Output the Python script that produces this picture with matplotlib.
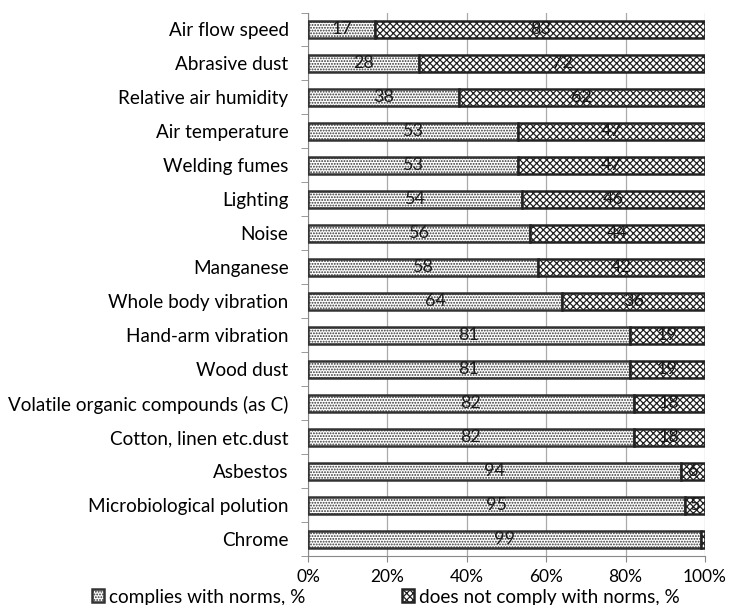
import matplotlib
matplotlib.use("Agg")
import matplotlib.pyplot as plt
import numpy as np

plt.rcParams['font.family'] = ['Lato', 'DejaVu Sans']
plt.rcParams['hatch.linewidth'] = 0.9

categories = ["Air flow speed", "Abrasive dust", "Relative air humidity", "Air temperature",
              "Welding fumes", "Lighting", "Noise", "Manganese", "Whole body vibration",
              "Hand-arm vibration", "Wood dust", "Volatile organic compounds (as C)",
              "Cotton, linen etc.dust", "Asbestos", "Microbiological polution", "Chrome"]
complies = [17, 28, 38, 53, 53, 54, 56, 58, 64, 81, 81, 82, 82, 94, 95, 99]
not_comply = [83, 72, 62, 47, 47, 46, 44, 42, 36, 19, 19, 18, 18, 6, 5, 1]
xticks = [0, 20, 40, 60, 80, 100]
xticklabels = ["0%", "20%", "40%", "60%", "80%", "100%"]

fig = plt.figure(figsize=(7.30, 6.05), dpi=100)
ax = fig.add_axes([308/730, 1-556/605, (705-308)/730, (556-12.5)/605])

y = np.arange(len(categories))
h = 0.5
b1 = ax.barh(y, complies, height=h, color='white', edgecolor='#333333', hatch='......',
             linewidth=1.8, label='complies with norms, %', zorder=3)
b2 = ax.barh(y, not_comply, left=complies, height=h, color='white', edgecolor='#222222',
             hatch='xxxxx', linewidth=1.8, label='does not comply with norms, %', zorder=3)
for i, (c, n) in enumerate(zip(complies, not_comply)):
    ax.text(c/2, i, str(c), ha='center', va='center', fontsize=13, color='#1a1a1a', zorder=5)
    if n > 1:
        ax.text(c + n/2, i, str(n), ha='center', va='center', fontsize=13, color='#1a1a1a', zorder=5)

ax.set_ylim(len(categories) - 0.5, -0.5)
ax.set_xlim(0, 100)
ax.set_yticks(y)
ax.set_yticklabels(categories, fontsize=13.6)
ax.set_yticks(np.arange(-0.5, len(categories)), minor=True)
ax.tick_params(axis='y', which='major', length=0, pad=14)
ax.tick_params(axis='y', which='minor', length=5, color='#888888')
ax.set_xticks(xticks)
ax.set_xticklabels(xticklabels, fontsize=12.5)
ax.tick_params(axis='x', length=4.5, color='#888888', pad=5)
ax.grid(axis='x', color='#aaaaaa', linewidth=0.9, zorder=0)
for s in ['top', 'right']:
    ax.spines[s].set_visible(False)
ax.spines['left'].set_color('#888888')
ax.spines['bottom'].set_color('#888888')

fig.legend(handles=[b1], loc='center left', bbox_to_anchor=(92/730, 1-597/605),
           frameon=False, fontsize=13.7, handlelength=0.65, handleheight=0.65,
           handletextpad=0.25, borderpad=0.0, borderaxespad=0.0)
fig.legend(handles=[b2], loc='center left', bbox_to_anchor=(402/730, 1-597/605),
           frameon=False, fontsize=13.7, handlelength=0.65, handleheight=0.65,
           handletextpad=0.25, borderpad=0.0, borderaxespad=0.0)

fig.savefig('out.png', dpi=100)
